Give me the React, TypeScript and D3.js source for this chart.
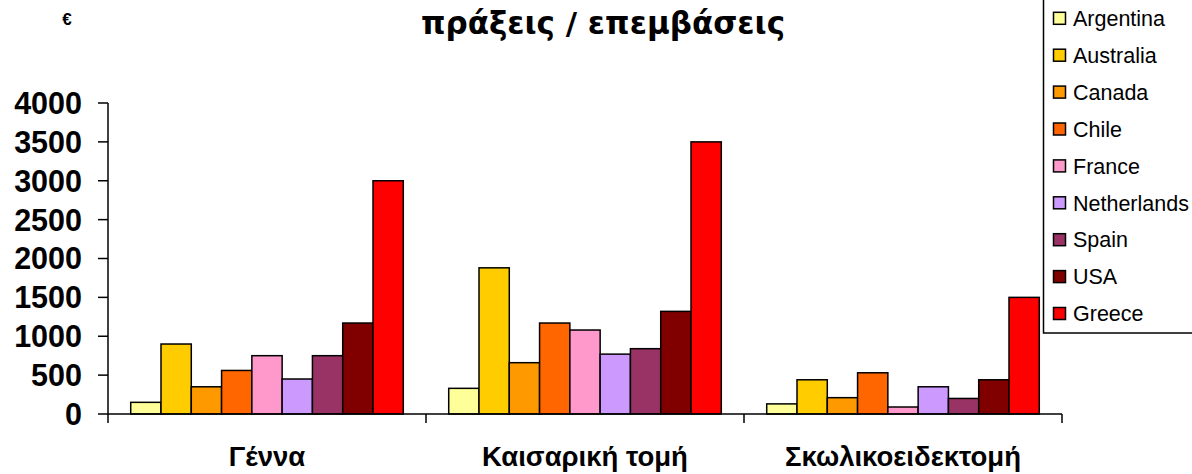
import React from "react";
import * as d3 from "d3";

const categories = ["Γέννα", "Καισαρική τομή", "Σκωλικοειδεκτομή"];
const countries = ["Argentina", "Australia", "Canada", "Chile", "France", "Netherlands", "Spain", "USA", "Greece"];
const colors = ["#FFFF99", "#FFCC00", "#FF9900", "#FF6600", "#FF99CC", "#CC99FF", "#993366", "#800000", "#FF0000"];
// values per country for [Γέννα, Καισαρική τομή, Σκωλικοειδεκτομή]
const argentina = [150, 330, 130];
const australia = [900, 1880, 440];
const canada = [350, 660, 210];
const chile = [560, 1170, 530];
const france = [750, 1080, 90];
const netherlands = [450, 770, 350];
const spain = [750, 840, 200];
const usa = [1170, 1320, 440];
const greece = [3000, 3500, 1500];
const seriesValues = [argentina, australia, canada, chile, france, netherlands, spain, usa, greece];
const yTicks = [0, 500, 1000, 1500, 2000, 2500, 3000, 3500, 4000];
const title = "πράξεις / επεμβάσεις";
const unit = "€";

export default function App() {
  const W = 1192, H = 474;
  const y = d3.scaleLinear().domain([0, 4000]).range([414, 103]);
  const x0 = d3.scaleBand<string>().domain(categories).range([108, 1062]).paddingInner(0).paddingOuter(0);
  const x1 = d3.scaleBand<string>().domain(countries).range([0, x0.bandwidth()]).paddingInner(0).paddingOuter(0.75);
  const boundaries = [...categories.map((c) => x0(c)!), 1062];
  const sans = "'Liberation Sans', Arial, sans-serif";

  return (
    <svg width={W} height={H} style={{ position: "absolute", left: 0, top: 0, background: "#fff" }} fontFamily={sans}>
      <rect x={0} y={0} width={W} height={H} fill="#fff" />
      <text x={67} y={25} textAnchor="middle" fontSize={17} fontWeight="bold">{unit}</text>
      <text x={603} y={34} textAnchor="middle" fontSize={31} fontWeight="bold" fontFamily="'DejaVu Sans', sans-serif">{title}</text>

      {/* bars */}
      {categories.map((c, ci) => (
        <g key={c} transform={`translate(${x0(c)},0)`}>
          {countries.map((k, si) => {
            const v = seriesValues[si][ci];
            return (
              <rect key={k} x={x1(k)} y={y(v)} width={x1.bandwidth()} height={y(0) - y(v)}
                fill={colors[si]} stroke="#000" strokeWidth={1.5} />
            );
          })}
        </g>
      ))}

      {/* y axis */}
      <line x1={108} x2={108} y1={y(4000)} y2={y(0)} stroke="#000" strokeWidth={1.5} />
      {yTicks.map((t) => (
        <g key={t}>
          <line x1={98} x2={108} y1={y(t)} y2={y(t)} stroke="#000" strokeWidth={1.5} />
          <text x={82} y={y(t)} dy="0.36em" textAnchor="end" fontSize={30.5} fontWeight="bold">{t}</text>
        </g>
      ))}

      {/* x axis */}
      <line x1={108} x2={1062} y1={y(0)} y2={y(0)} stroke="#000" strokeWidth={1.5} />
      {boundaries.map((b, i) => (
        <line key={i} x1={b} x2={b} y1={y(0)} y2={y(0) + 9} stroke="#000" strokeWidth={1.5} />
      ))}
      {categories.map((c) => (
        <text key={c} x={x0(c)! + x0.bandwidth() / 2} y={466} textAnchor="middle" fontSize={27.5} fontWeight="bold">{c}</text>
      ))}

      {/* legend */}
      <rect x={1043.5} y={-5} width={160} height={338} fill="#fff" stroke="#000" strokeWidth={1.5} />
      {countries.map((k, i) => (
        <g key={k} transform={`translate(0,${18.3 + i * 36.9})`}>
          <rect x={1053.5} y={-6} width={12} height={12} fill={colors[i]} stroke="#000" strokeWidth={1.5} />
          <text x={1073} y={0} dy="0.36em" fontSize={21.5}>{k}</text>
        </g>
      ))}
    </svg>
  );
}
